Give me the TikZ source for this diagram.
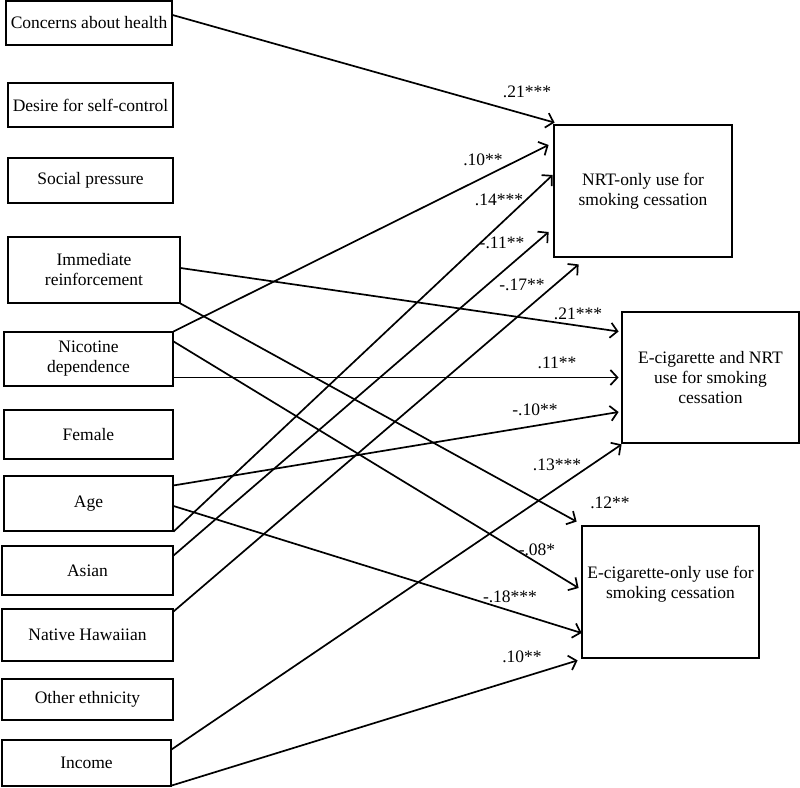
\documentclass[tikz,border=0pt]{standalone}
\usepackage{fontspec}
\setmainfont{Liberation Serif}
\usetikzlibrary{arrows.meta}
\begin{document}
\begin{tikzpicture}[x=1pt,y=-1pt,
  txt/.style={font=\fontsize{17.5}{20}\selectfont},
  lbox/.style={txt, draw, line width=1.1pt, inner sep=0pt, align=center},
  rbox/.style={txt, draw, line width=2.8pt, inner sep=0pt, align=center, minimum width=177pt, minimum height=132pt},
  lab/.style={txt, inner sep=0pt},
  arr/.style={line width=1.7pt, -{Straight Barb[length=7pt,width=15pt]}}
]
\useasboundingbox (0,0) rectangle (800,787);

% left boxes
\node[lbox, minimum width=166pt, minimum height=44pt] (health) at (89,23) {Concerns about health};
\node[lbox, minimum width=165pt, minimum height=44pt] (desire) at (90.5,105) {Desire for self-control};
\node[lbox, minimum width=165pt, minimum height=45pt] (social) at (90.5,180.5) {Social pressure};
\node[lbox, minimum width=172pt, minimum height=66pt] (immed) at (94,270) {Immediate\\reinforcement};
\node[lbox, minimum width=169pt, minimum height=54pt] (nic) at (88.5,359) {Nicotine\\dependence};
\node[lbox, minimum width=169pt, minimum height=49pt] (female) at (88.5,434.5) {Female};
\node[lbox, minimum width=169pt, minimum height=55pt] (age) at (88.5,503.5) {Age};
\node[lbox, minimum width=171pt, minimum height=49pt] (asian) at (87.5,570.5) {Asian};
\node[lbox, minimum width=171pt, minimum height=52pt] (hawaii) at (87.5,635) {Native Hawaiian};
\node[lbox, minimum width=171pt, minimum height=41pt] (other) at (87.5,699.5) {Other ethnicity};
\node[lbox, minimum width=169pt, minimum height=46pt] (income) at (86.5,763) {Income};

% right boxes
\node[rbox, minimum width=178pt] (nrt) at (643,191) {NRT-only use for\\smoking cessation};
\node[rbox, minimum height=131pt] (both) at (710.5,377.5) {E-cigarette and NRT\\use for smoking\\cessation};
\node[rbox] (ecig) at (670.5,592) {E-cigarette-only use for\\smoking cessation\\\mbox{}};

% arrows
\draw[arr] ([yshift=8pt]health.east) -- ([shift={(2pt,1pt)}]nrt.north west);
\draw[arr] (nic.north east) -- ([shift={(-4pt,46pt)}]nrt.west);
\draw[arr] (age.south east) -- ([shift={(0pt,16pt)}]nrt.west);
\draw[arr] ([yshift=15pt]asian.east) -- ([shift={(-4pt,-41pt)}]nrt.west);
\draw[arr] ([yshift=-3pt]hawaii.north east) -- ([shift={(26pt,-6pt)}]nrt.south west);
\draw[arr] ([yshift=2pt]immed.east) -- ([shift={(-2pt,46pt)}]both.west);
\draw[arr] (immed.south east) -- ([shift={(-4pt,3pt)}]ecig.north west);
\draw[arr] ([yshift=-10pt]nic.north east) -- ([shift={(-2pt,4pt)}]ecig.west);
\draw[arr] ([yshift=-18.5pt]nic.east) -- ([xshift=-2pt]both.west);
\draw[arr] ([yshift=-10pt]age.north east) -- ([shift={(-2pt,-34.5pt)}]both.west);
\draw[arr] ([yshift=-2.5pt]age.east) -- ([shift={(1pt,-41pt)}]ecig.west);
\draw[arr] ([yshift=-10pt]income.north east) -- ([shift={(1pt,0pt)}]both.south west);
\draw[arr] ([yshift=1pt]income.south east) -- ([shift={(-3pt,-1pt)}]ecig.south west);

% labels
\node[lab] (l1) at (527,92) {.21***};
\node[lab] (l2) at (483,160) {.10**};
\node[lab] (l3) at (499,200) {.14***};
\node[lab] (l4) at (502,243) {-.11**};
\node[lab] (l5) at (522,285) {-.17**};
\node[lab] (l6) at (578,314) {.21***};
\node[lab] (l7) at (557,363) {.11**};
\node[lab] (l8) at (535,410) {-.10**};
\node[lab] (l9) at (557,465) {.13***};
\node[lab] (l10) at (610,503) {.12**};
\node[lab] (l11) at (537,550) {-.08*};
\node[lab] (l12) at (510,597) {-.18***};
\node[lab] (l13) at (522,657) {.10**};
\end{tikzpicture}
\end{document}
